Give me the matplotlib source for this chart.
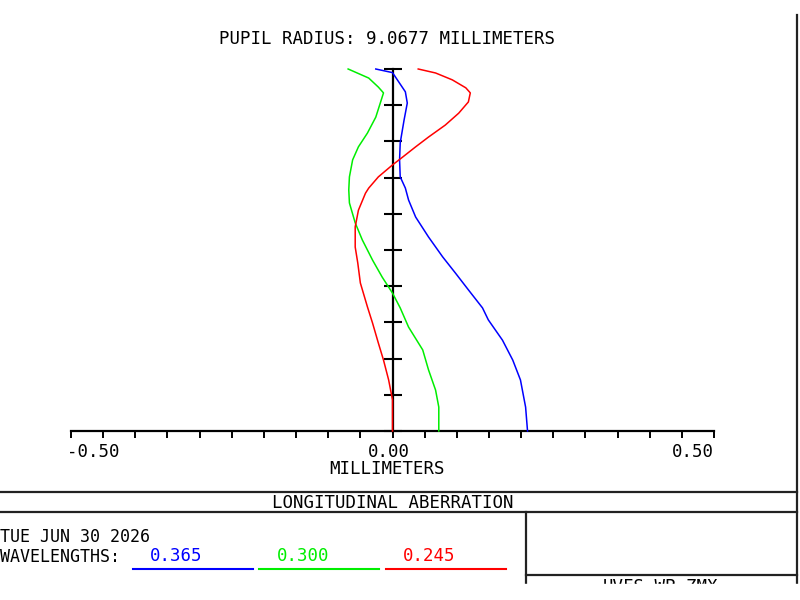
import numpy as np
import matplotlib
matplotlib.use("Agg")
import matplotlib.pyplot as plt
from matplotlib.lines import Line2D
from matplotlib.patches import Rectangle
from matplotlib.transforms import ScaledTranslation

plt.rcParams['font.family'] = ['DejaVu Sans Mono']

# normalized pupil coordinate and longitudinal aberration (mm) per wavelength
pupil_blue = [1.0, 0.99, 0.937, 0.906, 0.859, 0.796, 0.749, 0.702, 0.671, 0.638, 0.591,
              0.536, 0.481, 0.436, 0.390, 0.340, 0.307, 0.251, 0.196, 0.141, 0.066, 0.0]
aber_blue = [-0.026, 0.0, 0.020, 0.023, 0.018, 0.012, 0.011, 0.012, 0.020, 0.025, 0.036,
             0.056, 0.078, 0.098, 0.118, 0.140, 0.149, 0.171, 0.187, 0.199, 0.207, 0.210]

pupil_green = [1.0, 0.975, 0.950, 0.934, 0.906, 0.867, 0.823, 0.785, 0.749, 0.702, 0.666,
               0.630, 0.575, 0.528, 0.472, 0.425, 0.381, 0.340, 0.287, 0.224, 0.169, 0.113,
               0.066, 0.0]
aber_green = [-0.069, -0.037, -0.022, -0.014, -0.019, -0.026, -0.039, -0.053, -0.062, -0.067,
              -0.068, -0.067, -0.058, -0.047, -0.031, -0.016, 0.0, 0.012, 0.025, 0.047, 0.056,
              0.067, 0.072, 0.072]

pupil_red = [1.0, 0.989, 0.970, 0.948, 0.934, 0.909, 0.878, 0.845, 0.812, 0.785, 0.757,
             0.735, 0.702, 0.671, 0.657, 0.610, 0.564, 0.508, 0.464, 0.409, 0.343, 0.298,
             0.243, 0.196, 0.141, 0.086, 0.0]
aber_red = [0.040, 0.067, 0.093, 0.114, 0.121, 0.118, 0.103, 0.082, 0.056, 0.036, 0.016,
            0.0, -0.022, -0.037, -0.042, -0.053, -0.058, -0.058, -0.054, -0.050, -0.039,
            -0.031, -0.022, -0.014, -0.006, 0.0, 0.0]

wavelengths = ['0.365', '0.300', '0.245']
colors = ['#0000ff', '#00ee00', '#ff0000']

W, H = 800, 600
FS = 12.5


def fx(px):
    return px / W


def fy(py):
    return 1 - py / H


fig = plt.figure(figsize=(8, 6), dpi=100)
ax = fig.add_axes([fx(71), fy(431), 643 / W, 362 / H])

for p, a, c in zip([pupil_blue, pupil_green, pupil_red],
                   [aber_blue, aber_green, aber_red], colors):
    ax.plot(a, p, color=c, lw=1.1, clip_on=False, zorder=3)

ax.set_xlim(-0.5, 0.5)
ax.set_ylim(0, 1)

# axes styled like the zemax plot: horizontal axis at bottom, vertical through zero
for s in ['top', 'right']:
    ax.spines[s].set_visible(False)
ax.spines['left'].set_position(('data', 0))
ax.spines['left'].set_linewidth(1.6)
ax.spines['bottom'].set_linewidth(1.6)
ax.spines['left'].set_zorder(2)

ax.set_yticks(np.linspace(0, 1, 11))
ax.set_yticklabels([])
ax.tick_params(axis='y', direction='inout', length=13, width=1.5)

ax.set_xticks([-0.5, 0.0, 0.5])
ax.set_xticks(np.linspace(-0.5, 0.5, 21), minor=True)
ax.set_xticklabels(['-0.50', '0.00', '0.50'])
ax.tick_params(axis='x', which='both', direction='out', length=5, width=1.4, pad=3.5,
               labelsize=FS)
labels = ax.get_xticklabels()
labels[0].set_horizontalalignment('left')
labels[0].set_transform(labels[0].get_transform() +
                        ScaledTranslation(-4 / 100, 0, fig.dpi_scale_trans))
labels[1].set_transform(labels[1].get_transform() +
                        ScaledTranslation(-4 / 100, 0, fig.dpi_scale_trans))
labels[2].set_horizontalalignment('right')

fig.text(fx(387), fy(39), 'PUPIL RADIUS: 9.0677 MILLIMETERS', ha='center', va='center',
         fontsize=FS)
fig.text(fx(387), fy(469), 'MILLIMETERS', ha='center', va='center', fontsize=FS)
fig.text(fx(393), fy(503), 'LONGITUDINAL ABERRATION', ha='center', va='center', fontsize=FS)
fig.text(fx(0), fy(537), 'TUE JUN 30 2026', ha='left', va='center', fontsize=12)
fig.text(fx(0), fy(557), 'WAVELENGTHS:', ha='left', va='center', fontsize=12)

label_x = [150, 277, 403]
line_x = [(133, 253), (259, 379), (386, 506)]
for wl, c, lx, (x0, x1) in zip(wavelengths, colors, label_x, line_x):
    fig.text(fx(lx), fy(556), wl, ha='left', va='center', fontsize=FS, color=c)
    fig.add_artist(Line2D([fx(x0), fx(x1)], [fy(569), fy(569)], color=c, lw=1.5,
                          transform=fig.transFigure))

fig.text(fx(661), fy(578), 'UVFS_WP.ZMX', ha='center', va='top', fontsize=FS, zorder=3)

# frame lines
frame = [
    ([0, 797], [492, 492]),
    ([0, 797], [512, 512]),
    ([526, 526], [512, 600]),
    ([526, 797], [575, 575]),
    ([797, 797], [15, 600]),
]
for xs, ys in frame:
    fig.add_artist(Line2D([fx(v) for v in xs], [fy(v) for v in ys], color='#222222',
                          lw=1.6, transform=fig.transFigure, zorder=4))

# the reference is cut off below the file name
fig.add_artist(Rectangle((0, 0), 1, fy(584), transform=fig.transFigure, color='white',
                         zorder=10))

fig.savefig('out.png', dpi=100)
